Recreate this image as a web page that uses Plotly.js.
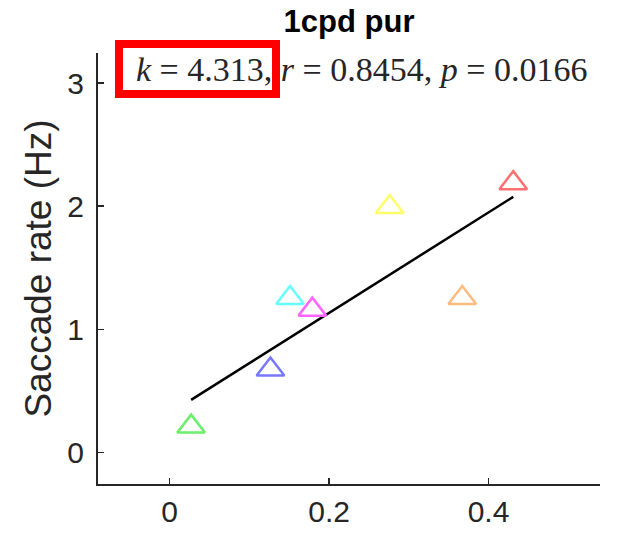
<!DOCTYPE html>
<html>
<head>
<meta charset="utf-8">
<script src="https://cdn.plot.ly/plotly-3.0.1.min.js"></script>
<style>html,body{margin:0;padding:0;background:#fff;}#chart{width:641px;height:537px;}</style>
</head>
<body>
<div id="chart"></div>
<script>
// Data
var subjects = ["S1", "S2", "S3", "S4", "S5", "S6", "S7"];
var xValues = [0.027, 0.1265, 0.151, 0.179, 0.276, 0.367, 0.431];
var yValues = [0.21, 0.673, 1.255, 1.16, 1.993, 1.255, 2.187];
var markerColors = ["#6cf06c", "#7878ff", "#66ffff", "#ff66ff", "#ffff66", "#ffbb80", "#ff7070"];
var fitX = [0.027, 0.431];
var fitY = [0.427, 2.076];
var xTicks = [0, 0.2, 0.4];
var xTickLabels = ["0", "0.2", "0.4"];
var yTicks = [0, 1, 2, 3];
var yTickLabels = ["0", "1", "2", "3"];
var titleText = "1cpd pur";
var statsText = "<i>k</i> = 4.313, <i>r</i> = 0.8454, <i>p</i> = 0.0166";
var yLabel = "Saccade rate (Hz)";

var axisColor = "#262626";
var sans = "Liberation Sans, Arial, Helvetica, sans-serif";

var traces = [
  {
    x: fitX, y: fitY, mode: "lines", type: "scatter",
    line: {color: "#000000", width: 2.5}, hoverinfo: "skip", showlegend: false
  },
  {
    x: xValues, y: yValues, text: subjects, mode: "markers", type: "scatter",
    marker: {symbol: "triangle-up-open", size: 24, color: markerColors,
             line: {color: markerColors, width: 2.5}},
    showlegend: false
  }
];

var layout = {
  width: 641, height: 537,
  margin: {l: 98, r: 41, t: 53, b: 53},
  paper_bgcolor: "#ffffff", plot_bgcolor: "#ffffff",
  showlegend: false,
  title: {text: "<b>" + titleText + "</b>", font: {family: sans, size: 31, color: "#000000"},
          x: 0.5, xref: "paper", xanchor: "center", y: 0.96, yref: "container", yanchor: "middle"},
  xaxis: {
    range: [-0.0898, 0.5398], tickmode: "array", tickvals: xTicks, ticktext: xTickLabels,
    ticks: "inside", ticklen: 6, tickwidth: 1.5, tickcolor: axisColor,
    showline: true, linecolor: axisColor, linewidth: 2, mirror: false,
    showgrid: false, zeroline: false,
    tickfont: {family: sans, size: 30, color: axisColor}
  },
  yaxis: {
    range: [-0.256, 3.244], tickmode: "array", tickvals: yTicks, ticktext: yTickLabels,
    ticks: "inside", ticklen: 6, tickwidth: 1.5, tickcolor: axisColor,
    showline: true, linecolor: axisColor, linewidth: 2, mirror: false,
    showgrid: false, zeroline: false, ticklabelstandoff: 6,
    tickfont: {family: sans, size: 30, color: axisColor},
    title: {text: yLabel, font: {family: sans, size: 37, color: axisColor}, standoff: 4}
  },
  annotations: [
    {text: statsText, xref: "paper", yref: "paper", x: 0.524, y: 0.9606,
     xanchor: "center", yanchor: "middle", showarrow: false,
     font: {family: "Liberation Serif, Times New Roman, serif", size: 34, color: axisColor}}
  ],
  shapes: [
    {type: "rect", xref: "paper", yref: "paper", x0: 0.0418, x1: 0.3546, y0: 0.9049, y1: 1.0209,
     line: {color: "#ff0000", width: 8}, fillcolor: "rgba(0,0,0,0)"}
  ]
};

Plotly.newPlot("chart", traces, layout, {displayModeBar: false, staticPlot: true});
</script>
</body>
</html>
